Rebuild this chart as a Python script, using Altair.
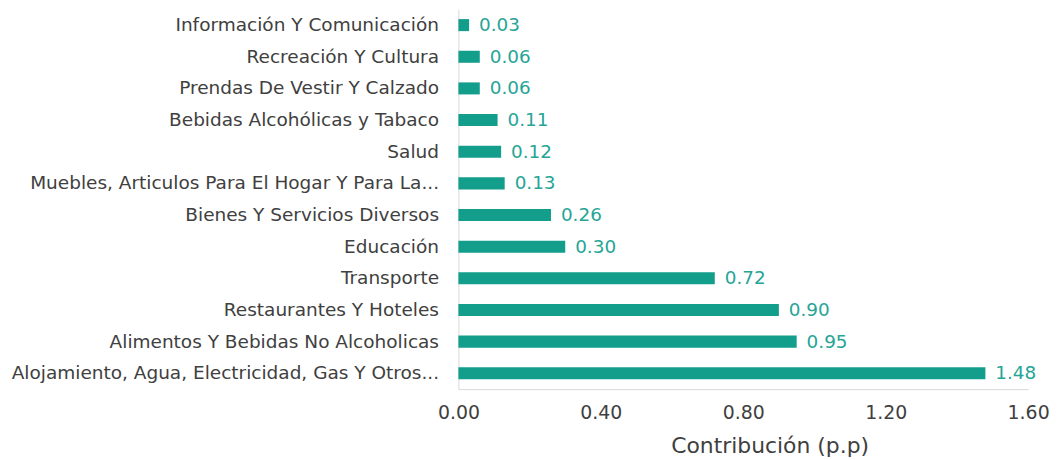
import altair as alt
import pandas as pd

categories = [
    "Información Y Comunicación",
    "Recreación Y Cultura",
    "Prendas De Vestir Y Calzado",
    "Bebidas Alcohólicas y Tabaco ",
    "Salud",
    "Muebles, Articulos Para El Hogar Y Para La...",
    "Bienes Y Servicios Diversos",
    "Educación",
    "Transporte",
    "Restaurantes Y Hoteles",
    "Alimentos Y Bebidas No Alcoholicas",
    "Alojamiento, Agua, Electricidad, Gas Y Otros...",
]
values = [0.03, 0.06, 0.06, 0.11, 0.12, 0.13, 0.26, 0.30, 0.72, 0.90, 0.95, 1.48]
x_ticks = [0.0, 0.4, 0.8, 1.2, 1.6]

df = pd.DataFrame({"cat": categories, "val": values})

FONT = "DejaVu Sans"
BAR = "#139e8c"
LAB = "#26a596"

base = alt.Chart(df).encode(
    y=alt.Y(
        "cat:N",
        sort=categories,
        scale=alt.Scale(paddingInner=0.62, paddingOuter=0.31),
        axis=alt.Axis(
            title=None,
            ticks=False,
            domainColor="#d9d9d9",
            labelFont=FONT,
            labelFontSize=18.6,
            labelColor="#404040",
            labelPadding=20,
            labelLimit=700,
        ),
    ),
    x=alt.X(
        "val:Q",
        scale=alt.Scale(domain=[0, 1.6], nice=False),
        axis=alt.Axis(
            title="Contribución (p.p)",
            values=x_ticks,
            format=".2f",
            ticks=False,
            grid=False,
            domainColor="#d9d9d9",
            labelFont=FONT,
            labelFontSize=19,
            labelColor="#404040",
            labelPadding=15,
            labelFlush=False,
            titleFont=FONT,
            titleFontSize=22,
            titleFontWeight="normal",
            titleColor="#404040",
            titlePadding=13,
            titleX=313,
            titleAlign="center",
        ),
    ),
)

bars = base.mark_bar(color=BAR)
text = base.mark_text(
    align="left", baseline="middle", dx=10, font=FONT, fontSize=18.5, color=LAB
).encode(text=alt.Text("val:Q", format=".2f"))

chart = (
    (bars + text)
    .properties(width=573, height=382, padding={"left": 3, "top": 0, "right": 0, "bottom": 0})
    .configure_view(stroke=None)
    .configure_axisY(grid=False)
)

chart.save("out.html", embed_options={"renderer": "svg", "actions": False})
